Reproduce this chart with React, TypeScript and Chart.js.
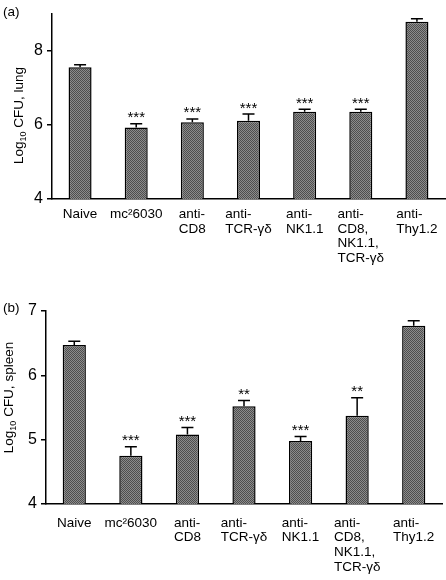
import React, { useEffect, useRef } from 'react';
import { Chart, registerables } from 'chart.js';

Chart.register(...registerables);

// ---------- data ----------
const categories: string[][] = [
  ['Naive'],
  ['mc²6030'],
  ['anti-', 'CD8'],
  ['anti-', 'TCR-γδ'],
  ['anti-', 'NK1.1'],
  ['anti-', 'CD8,', 'NK1.1,', 'TCR-γδ'],
  ['anti-', 'Thy1.2'],
];

const lungMeans = [7.55, 5.93, 6.07, 6.11, 6.35, 6.35, 8.78];
const lungErrors = [0.07, 0.1, 0.09, 0.18, 0.07, 0.07, 0.08];
const lungStars = ['', '***', '***', '***', '***', '***', ''];
const lungTicks = [4, 6, 8];

const spleenMeans = [6.47, 4.75, 5.08, 5.52, 4.98, 5.37, 6.77];
const spleenErrors = [0.06, 0.14, 0.11, 0.09, 0.07, 0.28, 0.08];
const spleenStars = ['', '***', '***', '**', '***', '**', ''];
const spleenTicks = [4, 5, 6, 7];

const FONT = '"Liberation Sans", Arial, Helvetica, sans-serif';

type PanelCfg = {
  means: number[];
  errors: number[];
  stars: string[];
  ticks: number[];
  min: number;
  max: number;
  panelLabel: string;
  organ: string;
  axisWidth: number;
  padTop: number;
  padRight: number;
  xHeight: number;
  labelOffset: number;
  titleX: number;
  titleCY: number;
  panelLabelY: number;
};

const panelA: PanelCfg = {
  means: lungMeans,
  errors: lungErrors,
  stars: lungStars,
  ticks: lungTicks,
  min: 4,
  max: 9,
  panelLabel: '(a)',
  organ: ' CFU, lung',
  axisWidth: 52,
  padTop: 2,
  padRight: 1,
  xHeight: 91,
  labelOffset: 19,
  titleX: 23,
  titleCY: 115.5,
  panelLabelY: 16,
};

const panelB: PanelCfg = {
  means: spleenMeans,
  errors: spleenErrors,
  stars: spleenStars,
  ticks: spleenTicks,
  min: 4,
  max: 7,
  panelLabel: '(b)',
  organ: ' CFU, spleen',
  axisWidth: 46,
  padTop: 21,
  padRight: 4,
  xHeight: 76,
  labelOffset: 22.5,
  titleX: 12.5,
  titleCY: 107.5,
  panelLabelY: 22,
};

function makePattern(): CanvasPattern | string {
  const c = document.createElement('canvas');
  c.width = 2;
  c.height = 2;
  const ctx = c.getContext('2d');
  if (!ctx) return '#707070';
  ctx.fillStyle = '#8c8c8c';
  ctx.fillRect(0, 0, 2, 2);
  ctx.fillStyle = '#4e4e4e';
  ctx.fillRect(0, 0, 1, 1);
  ctx.fillRect(1, 1, 1, 1);
  return ctx.createPattern(c, 'repeat') || '#707070';
}

function Panel({ cfg, top }: { cfg: PanelCfg; top: number }) {
  const ref = useRef<HTMLCanvasElement>(null);
  useEffect(() => {
    const canvas = ref.current!;
    const overlay = {
      id: 'overlay',
      afterDraw(chart: any) {
        const ctx: CanvasRenderingContext2D = chart.ctx;
        const yScale = chart.scales.y;
        const area = chart.chartArea;
        const meta = chart.getDatasetMeta(0);
        ctx.save();
        // error bars + stars
        meta.data.forEach((el: any, i: number) => {
          const x = el.x;
          const yBar = el.y;
          const yTop = yScale.getPixelForValue(cfg.means[i] + cfg.errors[i]);
          ctx.strokeStyle = '#000';
          ctx.lineWidth = 1.5;
          ctx.beginPath();
          ctx.moveTo(x, yBar);
          ctx.lineTo(x, yTop);
          ctx.moveTo(x - 6, yTop);
          ctx.lineTo(x + 6, yTop);
          ctx.stroke();
          if (cfg.stars[i]) {
            ctx.fillStyle = '#000';
            ctx.font = `15px ${FONT}`;
            ctx.textAlign = 'center';
            ctx.textBaseline = 'alphabetic';
            ctx.fillText(cfg.stars[i], x, yTop - 1.5);
          }
        });
        // category labels (left-aligned lines, block centred on bar)
        ctx.font = `13.5px ${FONT}`;
        ctx.fillStyle = '#000';
        ctx.textAlign = 'left';
        ctx.textBaseline = 'alphabetic';
        const xScale = chart.scales.x;
        categories.forEach((lines, i) => {
          const cx = xScale.getPixelForValue(i);
          const w = Math.max(...lines.map((l) => ctx.measureText(l).width));
          const left = cx - w / 2;
          lines.forEach((l, j) => {
            ctx.fillText(l, left, area.bottom + cfg.labelOffset + j * 14.7);
          });
        });
        // y title with subscript
        ctx.save();
        ctx.translate(cfg.titleX, cfg.titleCY);
        ctx.rotate(-Math.PI / 2);
        ctx.font = `13.5px ${FONT}`;
        const w1 = ctx.measureText('Log').width;
        const w3 = ctx.measureText(cfg.organ).width;
        ctx.font = `9px ${FONT}`;
        const w2 = ctx.measureText('10').width;
        const start = -(w1 + w2 + w3) / 2;
        ctx.font = `13.5px ${FONT}`;
        ctx.fillText('Log', start, 0);
        ctx.font = `9px ${FONT}`;
        ctx.fillText('10', start + w1, 3);
        ctx.font = `13.5px ${FONT}`;
        ctx.fillText(cfg.organ, start + w1 + w2, 0);
        ctx.restore();
        // panel label
        ctx.font = `13.5px ${FONT}`;
        ctx.textAlign = 'left';
        ctx.fillText(cfg.panelLabel, 3, cfg.panelLabelY);
        ctx.restore();
      },
    };

    const chart = new Chart(canvas, {
      type: 'bar',
      data: {
        labels: categories.map((c) => c.join(' ')),
        datasets: [
          {
            data: cfg.means,
            backgroundColor: makePattern() as any,
            borderColor: '#000',
            borderWidth: 1.5,
            barPercentage: 0.41,
            categoryPercentage: 1,
          },
        ],
      },
      options: {
        animation: false,
        responsive: false,
        maintainAspectRatio: false,
        layout: { padding: { top: cfg.padTop, right: cfg.padRight, left: 0, bottom: 0 } },
        plugins: { legend: { display: false }, tooltip: { enabled: false } },
        scales: {
          x: {
            grid: { display: false },
            border: { display: true, color: '#000', width: 1.5 },
            ticks: { display: false },
            afterFit: (s: any) => {
              s.height = cfg.xHeight;
            },
          },
          y: {
            min: cfg.min,
            max: cfg.max,
            grid: {
              display: true,
              drawOnChartArea: false,
              drawTicks: true,
              tickLength: 5,
              color: '#000',
              lineWidth: 1.5,
            },
            border: { display: true, color: '#000', width: 1.5 },
            ticks: {
              font: { family: FONT, size: 16 },
              color: '#000',
              padding: 4,
            },
            afterBuildTicks: (s: any) => {
              s.ticks = cfg.ticks.map((v) => ({ value: v }));
            },
            afterFit: (s: any) => {
              s.width = cfg.axisWidth;
            },
          },
        },
      },
      plugins: [overlay],
    });
    return () => chart.destroy();
  }, [cfg]);
  return (
    <canvas
      ref={ref}
      width={446}
      height={290}
      style={{ position: 'absolute', left: 0, top, width: 446, height: 290 }}
    />
  );
}

export default function App() {
  return (
    <div
      style={{
        position: 'fixed',
        left: 0,
        top: 0,
        width: 446,
        height: 580,
        background: '#fff',
      }}
    >
      <Panel cfg={panelA} top={0} />
      <Panel cfg={panelB} top={290} />
    </div>
  );
}
